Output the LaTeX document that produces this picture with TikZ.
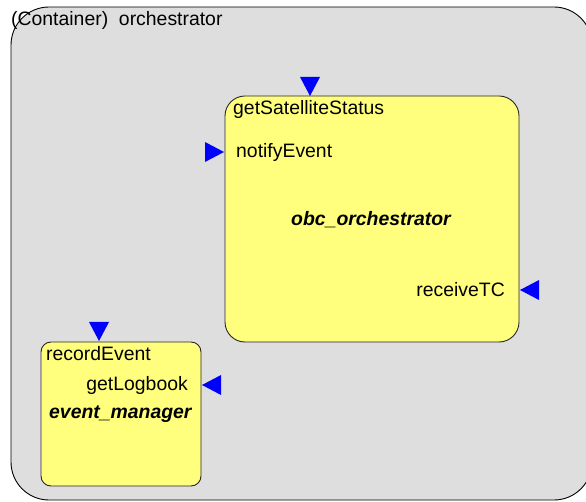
\documentclass[tikz,border=0pt]{standalone}
\usepackage{fontspec}
\setmainfont{Liberation Sans}
\begin{document}
\begin{tikzpicture}[x=1pt,y=-1pt,
  lbl/.style={inner sep=0pt,font=\fontsize{19.4}{23}\selectfont},
  title/.style={lbl,font=\fontsize{19.4}{23}\selectfont\bfseries\itshape},
  part/.style={draw=black!85,line width=0.9pt,fill=partfill},
  port/.style={fill=portblue,draw=none}]
\definecolor{bgfill}{RGB}{222,222,222}
\definecolor{partfill}{RGB}{255,255,125}
\definecolor{portblue}{RGB}{0,0,255}
\useasboundingbox (0,0) rectangle (586,502);
\fill[white] (0,0) rectangle (586,502);
\begin{scope}
\clip (0,0) rectangle (586,502);
% container
\draw[fill=bgfill,line width=0.9pt,rounded corners=38pt] (11,7) rectangle (592,500);
\end{scope}
\node[lbl,anchor=west] (ctitle) at (11,20) {(Container)\ \ orchestrator};

% obc_orchestrator part
\draw[part,rounded corners=20pt] (225,96) rectangle (519,342);
\node[lbl,anchor=west] (gss) at (233,109) {getSatelliteStatus};
\node[lbl,anchor=west] (ne) at (236,152) {notifyEvent};
\node[title] (obc) at (371,220) {obc\_orchestrator};
\node[lbl,anchor=east] (rtc) at (505,290) {receiveTC};
% ports
\fill[port] (300,77) -- (320,77) -- (310,96) -- cycle;
\fill[port] (205,142) -- (205,162) -- (224,152) -- cycle;
\fill[port] (539,280) -- (539,300) -- (520,290) -- cycle;

% event_manager part
\draw[part,rounded corners=10pt] (41,342) rectangle (201,486);
\node[lbl,anchor=west] (re) at (46,354) {recordEvent};
\node[lbl,anchor=east] (gl) at (188,385) {getLogbook};
\node[title,anchor=west] (em) at (49,414) {event\_manager};
% ports
\fill[port] (89,322) -- (109,322) -- (99,341) -- cycle;
\fill[port] (221,375) -- (221,395) -- (202,385) -- cycle;
\end{tikzpicture}
\end{document}
